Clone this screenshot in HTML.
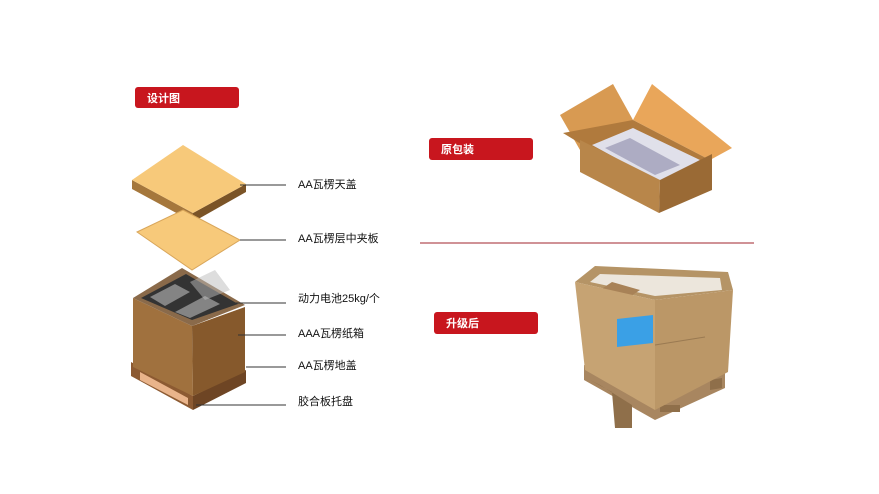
<!DOCTYPE html>
<html><head><meta charset="utf-8"><style>
body{margin:0;background:#fff;}
svg{display:block}
text{font-family:"Liberation Sans","Noto Sans CJK SC",sans-serif}
</style></head><body>
<svg width="879" height="494" viewBox="0 0 879 494">
<rect x="135" y="87" width="104" height="21" rx="3" fill="#c8161e"/>
<text x="147" y="102" font-size="11" font-weight="bold" fill="#fff">设计图</text>
<rect x="429" y="138" width="104" height="22" rx="3" fill="#c8161e"/>
<text x="441" y="153" font-size="11" font-weight="bold" fill="#fff">原包装</text>
<rect x="434" y="312" width="104" height="22" rx="3" fill="#c8161e"/>
<text x="446" y="327" font-size="11" font-weight="bold" fill="#fff">升级后</text>
<line x1="420" y1="243" x2="754" y2="243" stroke="#a0262c" stroke-width="1"/>

<!-- top lid -->
<polygon points="132,180 193,213 193,222 132,189" fill="#a5773c"/>
<polygon points="193,213 246,184 246,192 193,222" fill="#7b5427"/>
<polygon points="183,145 246,184 193,213 132,180" fill="#f7c97a"/>
<polygon points="183,210 240,240 192,270 137,232" fill="#f7c97a" stroke="#d9a65a" stroke-width="1"/>
<!-- pallet -->
<polygon points="131,362 193,396 193,410 131,376" fill="#8c5a32"/>
<polygon points="140,372 188,398 188,405 140,380" fill="#e9b48b"/>
<polygon points="193,396 246,370 246,383 193,410" fill="#6e4524"/>
<!-- box -->
<polygon points="133,298 192,326 193,396 133,367" fill="#a0713e"/>
<polygon points="192,326 245,307 245,372 193,396" fill="#86592c"/>
<polygon points="182,268 245,305 192,326 133,298" fill="#8a6a4a"/>
<polygon points="186,274 238,304 192,320 141,298" fill="#333"/>
<polygon points="150,297 175,284 190,292 165,306" fill="#bbb" opacity=".6"/>
<polygon points="175,312 205,296 220,304 190,318" fill="#bbb" opacity=".6"/>
<polygon points="190,282 215,270 230,290 205,300" fill="#bbb" opacity=".5"/>
<g stroke="#333" stroke-width="1">
<line x1="240" y1="185" x2="286" y2="185"/>
<line x1="240" y1="240" x2="286" y2="240"/>
<line x1="224" y1="303" x2="286" y2="303"/>
<line x1="238" y1="335" x2="286" y2="335"/>
<line x1="246" y1="367" x2="286" y2="367"/>
<line x1="196" y1="405" x2="286" y2="405"/>
</g>
<g font-size="11" fill="#111">
<text x="298" y="188">AA瓦楞天盖</text>
<text x="298" y="242">AA瓦楞层中夹板</text>
<text x="298" y="302">动力电池25kg/个</text>
<text x="298" y="337">AAA瓦楞纸箱</text>
<text x="298" y="369">AA瓦楞地盖</text>
<text x="298" y="405">胶合板托盘</text>
</g>

<!-- open box -->
<polygon points="560,115 613,84 633,120 580,150" fill="#d89a52"/>
<polygon points="633,120 652,84 732,148 710,160" fill="#e9a65a"/>
<polygon points="563,133 633,120 710,160 640,180" fill="#b07a3d"/>
<polygon points="592,145 633,128 700,160 660,182" fill="#e0e0ea"/>
<polygon points="605,148 630,138 680,165 655,175" fill="#8a88a8" opacity=".6"/>
<polygon points="580,140 580,172 659,213 660,180" fill="#b8864a"/>
<polygon points="660,180 712,154 712,190 659,213" fill="#9a6a35"/>

<!-- pallet box -->
<polygon points="584,365 655,400 725,372 725,388 655,420 584,380" fill="#a88660"/>
<polygon points="590,380 612,392 615,428 632,428 632,405 600,385" fill="#8f6f4a"/>
<polygon points="660,405 680,405 680,412 660,412" fill="#8f6f4a"/>
<polygon points="710,380 722,378 722,388 710,390" fill="#8f6f4a"/>
<polygon points="575,282 595,266 728,272 733,290 655,300" fill="#b59466"/>
<polygon points="590,282 600,274 720,278 722,290 655,296" fill="#ece6dc"/>
<polygon points="600,290 612,282 640,290 628,298" fill="#a88257"/>
<polygon points="575,282 655,300 655,410 585,370" fill="#c6a373"/>
<polygon points="655,300 733,290 728,372 655,410" fill="#bb9767"/>
<polygon points="617,319 653,315 653,343 617,347" fill="#3aa0e6"/>
<line x1="655" y1="345" x2="705" y2="337" stroke="#9a7a52"/>
</svg>
</body></html>
